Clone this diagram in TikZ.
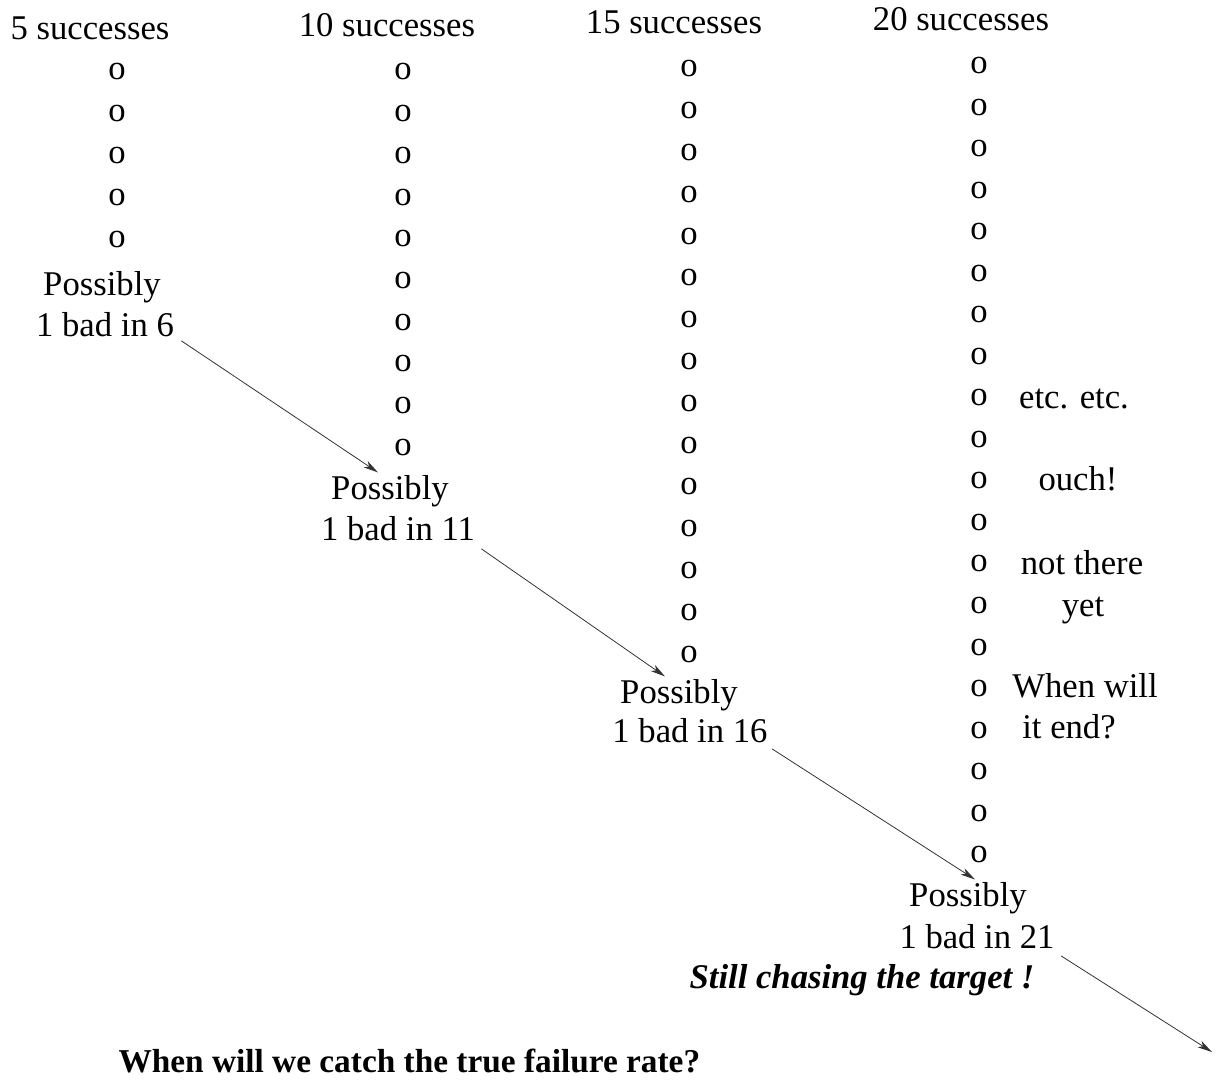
\documentclass[tikz,border=0pt]{standalone}
\usepackage{fontspec}
\setmainfont{Liberation Serif}
\usetikzlibrary{arrows.meta}

\tikzset{every picture/.style={line width=0.75pt}}
\tikzset{
  txt/.style={font=\fontsize{26}{31}\selectfont, inner sep=0pt, anchor=base},
  pip/.style={font=\fontsize{26}{31}\selectfont, inner sep=0pt},
  chase/.style={draw=black!80, line width=0.6pt, -{Stealth[length=11pt,width=5.5pt,inset=3pt]}}
}

\begin{document}
\begin{tikzpicture}[x=0.75pt,y=0.75pt,yscale=-1,xscale=1]
	\useasboundingbox (0,0) rectangle (1217,1080);

	% Column heads
	\draw (90,40) node [txt] (h5) {5 successes};
	\draw (387,37) node [txt] (h10) {10 successes};
	\draw (674,34) node [txt] (h15) {15 successes};
	\draw (961,31) node [txt] (h20) {20 successes};

	% Successes, one o per trial
	\foreach \i in {1,...,5} {\draw (117,{72+41.8*(\i-1)}) node [pip] (ca\i) {o};}
	\foreach \i in {1,...,10} {\draw (403,{72+41.7*(\i-1)}) node [pip] (cb\i) {o};}
	\foreach \i in {1,...,15} {\draw (689,{69+41.8*(\i-1)}) node [pip] (cc\i) {o};}
	\foreach \i in {1,...,20} {\draw (979,{66+41.5*(\i-1)}) node [pip] (cd\i) {o};}

	% Text Node
	\draw (102,296) node [txt] (p6) {Possibly};
	\draw (105,337) node [txt] (b6) {1 bad in 6};
	% Text Node
	\draw (390,499) node [txt] (p11) {Possibly};
	\draw (398,540) node [txt] (b11) {1 bad in 11};
	% Text Node
	\draw (679,703) node [txt] (p16) {Possibly};
	\draw (690,742) node [txt] (b16) {1 bad in 16};
	% Text Node
	\draw (968,906) node [txt] (p21) {Possibly};
	\draw (977,948) node [txt] (b21) {1 bad in 21};

	% Remarks beside the last column
	\draw (1074,408) node [txt] (etc) {etc. etc.};
	\draw (1078,490) node [txt] (ouch) {ouch!};
	\draw (1082,574) node [txt] (nt1) {not there};
	\draw (1083,616) node [txt] (nt2) {yet};
	\draw (1085,697) node [txt] (we1) {When will};
	\draw (1069,738) node [txt] (we2) {it end?};

	% Text Node
	\draw (862,988) node [txt, font=\fontsize{26}{31}\selectfont\bfseries\itshape] (still) {Still chasing the target !};
	\draw (118,1072) node [txt, anchor=base west, font=\fontsize{25}{30}\selectfont\bfseries] (ask) {When will we catch the true failure rate?};

	% Arrows
	\coordinate (far) at (1212,1052);
	\draw [chase] ([shift={(7,3)}]b6.south east) -- ([shift={(-12,-2)}]p11.north);
	\draw [chase] ([shift={(6,8)}]b11.south east) -- ([shift={(-14,-2)}]p16.north);
	\draw [chase] ([shift={(4,6)}]b16.south east) -- ([shift={(7,-2)}]p21.north);
	\draw [chase] ([shift={(6,7)}]b21.south east) -- (far);

\end{tikzpicture}
\end{document}
